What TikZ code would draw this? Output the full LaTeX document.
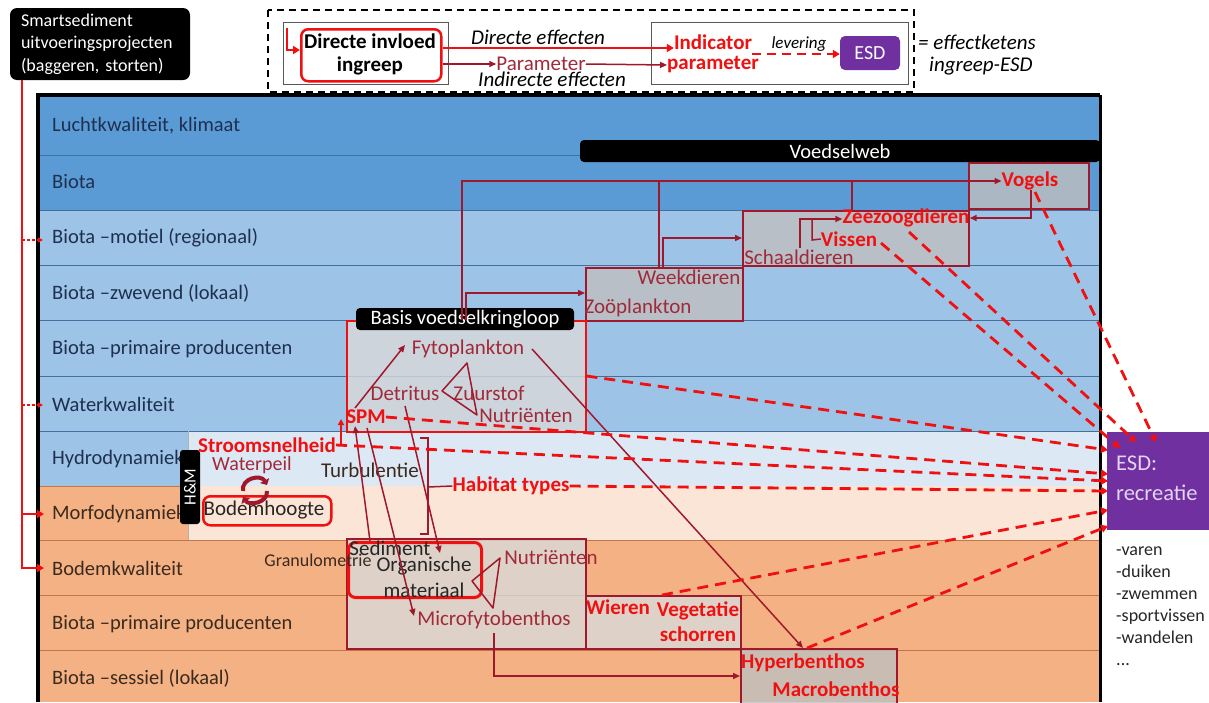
\documentclass[tikz,border=0pt]{standalone}
\usepackage{fontspec}
\setmainfont{Carlito}
\usetikzlibrary{arrows.meta}
\definecolor{blueA}{HTML}{5B9BD5}
\definecolor{blueB}{HTML}{9DC3E6}
\definecolor{orng}{HTML}{F4B183}
\definecolor{hmtop}{HTML}{DCE9F5}
\definecolor{hmbot}{HTML}{FBE5D6}
\definecolor{sepB}{HTML}{41719C}
\definecolor{sepO}{HTML}{C0784A}
\definecolor{navytxt}{HTML}{1F2F4F}
\definecolor{browntxt}{HTML}{3B2A1E}
\definecolor{dkred}{HTML}{A0182C}
\definecolor{dkredtxt}{HTML}{A02A3A}
\definecolor{brightred}{HTML}{F01010}
\definecolor{boxgray}{HTML}{BFBFBF}
\definecolor{boxlight}{HTML}{D9D9D9}
\definecolor{purp}{HTML}{7030A0}
\definecolor{lav}{HTML}{E2D4F2}
\definecolor{listgray}{HTML}{262626}
\definecolor{framegray}{HTML}{595959}

\begin{document}
\begin{tikzpicture}[x=1pt,y=-1pt,
  rowlbl/.style={anchor=west, inner sep=0pt, font=\fontsize{20.5}{23}\selectfont},
  txt/.style={inner sep=0pt, align=center, font=\fontsize{21}{25}\selectfont},
  drt/.style={txt, text=dkredtxt},
  rbt/.style={txt, text=brightred, font=\fontsize{21}{25}\selectfont\bfseries},
  itx/.style={txt, font=\fontsize{21}{25}\selectfont\itshape},
  fwbox/.style={draw=dkred, line width=1.5pt, fill=boxgray, fill opacity=0.8, inner sep=0pt, anchor=north west},
  basebox/.style={draw=dkred, line width=1.5pt, fill=boxlight, fill opacity=0.8, inner sep=0pt, anchor=north west},
  blackbar/.style={fill=black, text=white, rounded corners=4pt, inner sep=0pt, font=\fontsize{20.5}{24}\selectfont},
  redbox/.style={draw=brightred, line width=2.5pt, rounded corners=7pt, inner sep=0pt, anchor=north west},
  link/.style={draw=dkred, line width=1.5pt},
  linkarr/.style={link, -{Triangle[length=7pt,width=6pt]}},
  esdlink/.style={draw=brightred, line width=2.8pt, dash pattern=on 11pt off 7pt, -{Triangle[length=7pt,width=8pt]}},
  feed/.style={draw=brightred, line width=2.5pt, -{Triangle[length=7pt,width=8pt]}},
  feedthin/.style={draw=brightred, line width=1.2pt, dash pattern=on 3pt off 2pt, -{Triangle[length=5pt,width=5pt]}},
]
\useasboundingbox (0,0) rectangle (1209,702);
\fill[white] (0,0) rectangle (1209,702);

% ---------- compartment bands ----------
\fill[blueA] (38,95) rectangle (1100,210);
\fill[blueB] (38,210) rectangle (1100,486);
\fill[orng] (38,486) rectangle (1100,702);
\fill[hmtop] (188,431) rectangle (1100,486);
\fill[hmbot] (188,486) rectangle (1100,540);
\foreach \yy in {155,210,265,320,376,431}
  \draw[sepB, line width=0.8pt] (38,\yy) -- (1100,\yy);
\draw[sepO, line width=0.8pt] (38,486) -- (188,486);
\foreach \yy in {540,595,650}
  \draw[sepO, line width=0.8pt] (38,\yy) -- (1100,\yy);
\draw[gray!60, line width=0.8pt] (188,431) -- (188,540);

% ---------- row labels ----------
\node[rowlbl, text=navytxt] (r1) at (52,126) {Luchtkwaliteit, klimaat};
\node[rowlbl, text=navytxt] (r2) at (52,182) {Biota};
\node[rowlbl, text=navytxt] (r3) at (52,238) {Biota –motiel (regionaal)};
\node[rowlbl, text=navytxt] (r4) at (52,293) {Biota –zwevend (lokaal)};
\node[rowlbl, text=navytxt] (r5) at (52,349) {Biota –primaire producenten};
\node[rowlbl, text=navytxt] (r6) at (52,404) {Waterkwaliteit};
\node[rowlbl, text=navytxt] (r7) at (52,459) {Hydrodynamiek};
\node[rowlbl, text=browntxt] (r8) at (52,514) {Morfodynamiek};
\node[rowlbl, text=browntxt] (r9) at (52,568) {Bodemkwaliteit};
\node[rowlbl, text=browntxt] (r10) at (52,624) {Biota –primaire producenten};
\node[rowlbl, text=browntxt] (r11) at (52,678) {Biota –sessiel (lokaal)};

% frame
\draw[line width=4pt] (38,702) -- (38,95) -- (1100,95);
\draw[line width=3pt] (1100,95) -- (1100,702);

% ---------- food web boxes ----------
\node[blackbar, minimum width=520pt, minimum height=22pt] (vw) at (840,151) {Voedselweb};
\node[fwbox, minimum width=120pt, minimum height=46pt] (vogelsbox) at (968,162) {};
\node[fwbox, minimum width=226pt, minimum height=55pt] (zeebox) at (742,210) {};
\node[fwbox, minimum width=157pt, minimum height=53pt] (weekbox) at (585,267) {};
\node[basebox, draw=brightred, minimum width=239pt, minimum height=111pt] (basisbox) at (346,320) {};
\node[basebox, minimum width=239pt, minimum height=110pt] (sedbox) at (346,538) {};
\node[basebox, minimum width=155pt, minimum height=53pt] (wierbox) at (585,595) {};
\node[fwbox, minimum width=156pt, minimum height=60pt] (hyperbox) at (740,648) {};
\node[blackbar, minimum width=218pt, minimum height=22pt] (basislbl) at (465,319) {Basis voedselkringloop};

% ---------- H&M block ----------
\node[redbox, minimum width=128pt, minimum height=29pt] (bodembox) at (202,495) {};
\node[fill=black, text=white, rounded corners=3pt, minimum width=74pt, minimum height=20pt,
      rotate=90, inner sep=0pt, font=\fontsize{17}{20}\selectfont] (hm) at (190,487) {H\&M};
\node[rbt] (stroom) at (267,445) {Stroomsnelheid};
\node[drt, font=\fontsize{20}{23}\selectfont] (waterpeil) at (252,465) {Waterpeil};
\node[txt, text=browntxt] (turb) at (370,470) {Turbulentie};
\node[rbt] (habitat) at (511,486) {Habitat types};
\node[txt, text=listgray] (bodem) at (264,510) {Bodemhoogte};
\draw[dkred, line width=4pt, -{Triangle[length=5pt,width=10pt]}] (243,491) .. controls (241,478) and (261,474) .. (267,485);
\draw[dkred, line width=4pt, -{Triangle[length=5pt,width=10pt]}] (267,491) .. controls (268,503) and (249,506) .. (243,497);

% ---------- food web texts ----------
\node[rbt] (vogels) at (1030,181) {Vogels};
\node[rbt] (zeezoog) at (906,218) {Zeezoogdieren};
\node[rbt] (vissen) at (849,239) {Vissen};
\node[drt] (schaal) at (799,257) {Schaaldieren};
\node[drt] (week) at (689,277) {Weekdieren};
\node[drt] (zoo) at (638,308) {Zoöplankton};
\node[drt] (fyto) at (468,349) {Fytoplankton};
\node[drt] (detritus) at (405,393) {Detritus};
\node[drt] (zuur) at (489,393) {Zuurstof};
\node[drt] (nutr1) at (526,415) {Nutriënten};
\node[rbt] (spm) at (366,417) {SPM};

% ---------- bottom texts ----------
\node[redbox, line width=3pt, minimum width=133pt, minimum height=55pt] (orgbox) at (347,541) {};
\node[txt, text=browntxt, font=\fontsize{18}{20}\selectfont] (granulo) at (318,560) {Granulometrie};
\node[txt, text=listgray] (sediment) at (390,548) {Sediment};
\node[txt, text=listgray] (organ) at (424,577) {Organische\\[1pt]materiaal};
\node[drt] (nutr2) at (551,557) {Nutriënten};
\node[drt] (micro) at (494,620) {Microfytobenthos};
\node[rbt] (wieren) at (618,607) {Wieren};
\node[rbt] (veget) at (698,622) {Vegetatie\\schorren};
\node[rbt] (hyper) at (803,663) {Hyperbenthos};
\node[rbt] (macro) at (836,689) {Macrobenthos};

% ---------- food web links ----------
\coordinate (trunkS) at (462,320);
\coordinate (trunkN) at (462,181);
\draw[linkarr] (trunkS) -- (trunkN) -- (vogels.west);
\draw[linkarr] (466,320) -- (466,293) -- (weekbox.west |- 0,293);
\draw[link] (659,267) -- (659,181);
\draw[linkarr] (663,267) -- (663,238) -- (zeebox.west |- 0,238);
\draw[link] (852,210) -- (852,181);
\draw[linkarr] (800,248) -- (800,219) -- (zeezoog.west |- 0,219);
\draw[link] (812,219) -- (812,240) -- (vissen.west);
\draw[linkarr] (1031,190) -- (1031,218) -- (zeezoog.east);

% ---------- base cycle links ----------
\draw[draw=brightred, line width=1.5pt, -{Triangle[length=6pt,width=6pt]}] (stroom.east) -| (341,419);
\draw[linkarr] (355,408) -- (405,345);
\draw[link, line join=round] (467,363) -- (442,391) -- (477,415) -- cycle;
\draw[linkarr] (370,541) -- (355,426);
\draw[linkarr] (367,428) -- (414,616);
\draw[linkarr] (405,406) -- (440,553);
\draw[linkarr] (532,349) -- (803,648);
\draw[link, line join=round] (500,558) -- (472,581) -- (493,608) -- cycle;
\draw[linkarr] (494,633) -- (494,676) -- (hyperbox.west |- 0,676);
\draw[link] (420,438) -- (428,438) -- (428,534) -- (420,534);
\draw[link] (428,487) -- (habitat.west);

% ---------- Smartsediment driver ----------
\node[fill=black, text=white, rounded corners=7pt, align=left, text width=158pt, inner xsep=11pt, inner ysep=0pt,
      minimum height=72pt, font=\fontsize{18}{22.5}\selectfont] (smart) at (100,44)
      {Smartsediment\\uitvoeringsprojecten\\(baggeren, storten)};
\coordinate (smartfoot) at (22,80);
\draw[feed] (smartfoot) -- (22,568) -- (44,568);
\draw[feed] (22,514) -- (44,514);
\draw[feedthin] (22,240) -- (43,240);
\draw[feedthin] (22,405) -- (43,405);

% ---------- ESD recreatie ----------
\node[fill=purp, minimum width=102pt, minimum height=98pt, anchor=north west, inner sep=0pt] (esd) at (1107,432) {};
\node[anchor=west, text=lav, align=left, inner sep=0pt, font=\fontsize{22.5}{30}\selectfont] (esdt) at (1116,478) {ESD:\\recreatie};
\node[anchor=north west, align=left, text=listgray, inner sep=0pt, font=\fontsize{18}{22}\selectfont] (list) at (1116,547)
  {-varen\\-duiken\\-zwemmen\\-sportvissen\\-wandelen\\...};

% ---------- links towards the ecosystem service ----------
\draw[esdlink] (1035,192) -- (1156,442);
\draw[esdlink] (909,232) -- (1136,442);
\draw[esdlink] (881,243) -- (1120,448);
\draw[esdlink] (basisbox.east |- 0,376) -- (1108,450);
\draw[esdlink] (spm.east) -- (1108,474);
\draw[esdlink] (stroom.east) -- (1108,481);
\draw[esdlink] (habitat.east) -- (1108,491);
\draw[esdlink] (662,595) -- (1108,510);
\draw[esdlink] (807,648) -- (1108,526);

% ---------- legend ----------
\draw[line width=1.5pt, dash pattern=on 7pt off 5pt] (268,10) rectangle (914,92);
\draw[framegray, line width=1pt] (283,22) rectangle (448,84);
\draw[framegray, line width=1pt] (651,22) rectangle (908,84);
\node[redbox, minimum width=140pt, minimum height=52pt] (invbox) at (300,28) {};
\node[txt, font=\fontsize{21}{23}\selectfont\bfseries] (inv) at (370,54) {Directe invloed\\ingreep};
\draw[feed] (287,28) -- (287,50) -- (invbox.west |- 0,50);
\node[itx] (direff) at (538,37) {Directe effecten};
\node[drt] (param) at (541,64) {Parameter};
\node[itx] (indireff) at (552,79) {Indirecte effecten};
\node[rbt] (indic) at (713,42) {Indicator};
\node[rbt] (indpar) at (713,65) {parameter};
\draw[feed] (invbox.east |- 0,48) -- (indic.west |- 0,48);
\draw[linkarr] (invbox.east |- param) -- (param.west);
\draw[linkarr] (param.east) -- (indpar.west);
\node[fill=purp, text=white, rounded corners=5pt, minimum width=60pt, minimum height=34pt, inner sep=0pt,
      font=\fontsize{20}{24}\selectfont] (esdleg) at (870,53) {ESD};
\node[itx, font=\fontsize{17}{20}\selectfont\itshape] (lever) at (799,44) {levering};
\draw[esdlink, line width=2.5pt, dash pattern=on 9pt off 6pt] (indic.east |- 0,54) -- (esdleg.west |- 0,54);
\node[itx, anchor=west] (effk) at (918,42) {= effectketens};
\node[itx, anchor=west] (ingesd) at (929,66) {ingreep-ESD};
\end{tikzpicture}
\end{document}
